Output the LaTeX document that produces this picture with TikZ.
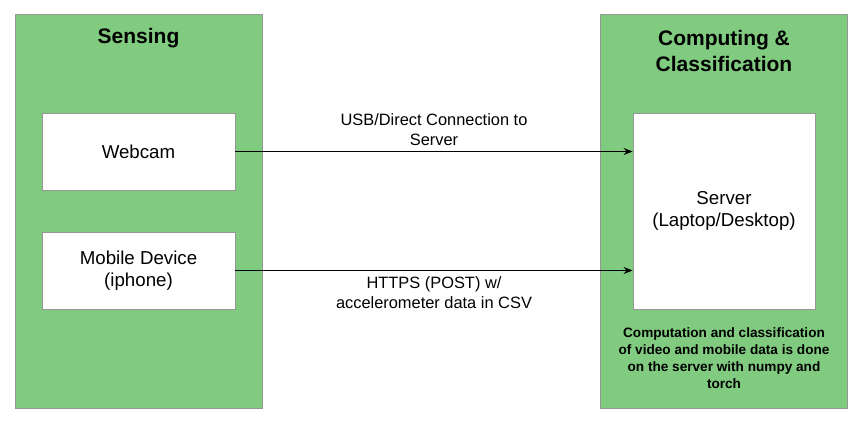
\documentclass[tikz,border=0pt]{standalone}
\usepackage{fontspec}
\setmainfont{Liberation Sans}
\usetikzlibrary{arrows.meta,positioning}
\definecolor{panelgreen}{RGB}{128,203,127}
\definecolor{edgegray}{RGB}{150,150,150}

\begin{document}
\begin{tikzpicture}[
  x=1pt, y=-1pt,
  panel/.style={rectangle, draw=edgegray, fill=panelgreen, line width=0.8pt, minimum width=247pt, minimum height=394pt},
  device/.style={rectangle, draw=edgegray, fill=white, line width=0.8pt, align=center, font=\fontsize{18.7}{22}\selectfont},
  title/.style={align=center, font=\fontsize{21}{26}\selectfont\bfseries},
  link label/.style={align=center, font=\fontsize{16.4}{20}\selectfont},
  note/.style={align=center, font=\fontsize{13.6}{17}\selectfont\bfseries},
  >={Stealth[length=9pt, width=7pt, inset=3pt]}
]
  \useasboundingbox (0,0) rectangle (865,423);

  % the two stages
  \node[panel] (sensing) at (138.5, 211) {};
  \node[panel] (computing) at (723.5, 211) {};
  \node[title] (sensing title) at (138.5, 38) {Sensing};
  \node[title] (computing title) at (724, 51) {Computing \&\\Classification};

  \node[device, minimum width=193pt, minimum height=77pt] (webcam) at (138.5, 151.5) {Webcam};
  \node[device, minimum width=193pt, minimum height=77pt] (mobile) at (138.5, 270.5) {Mobile Device\\(iphone)};
  \node[device, minimum width=182pt, minimum height=196pt] (server) at (724, 211) {Server\\(Laptop/Desktop)};

  \node[note] (compute note) at (724, 358) {Computation and classification\\of video and mobile data is done\\on the server with numpy and\\torch};

  \draw[->, line width=1.3pt] (webcam.east) -- node[link label, above=2pt] {USB/Direct Connection to\\Server} (webcam.east -| server.west);
  \draw[->, line width=1.3pt] (mobile.east) -- node[link label, below=2pt] {HTTPS (POST) w/\\accelerometer data in CSV} (mobile.east -| server.west);
\end{tikzpicture}
\end{document}
